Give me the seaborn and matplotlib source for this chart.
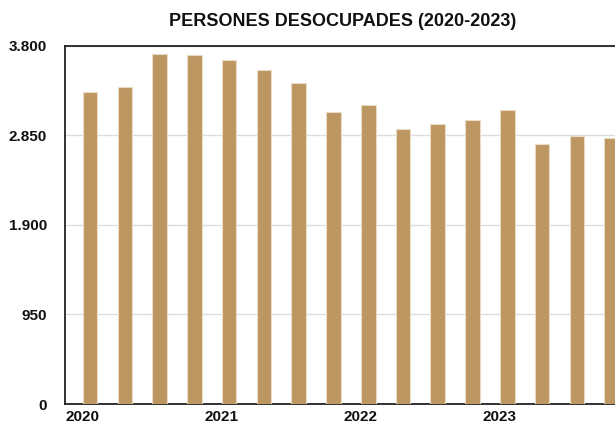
import numpy as np
import matplotlib
matplotlib.use('Agg')
import matplotlib.pyplot as plt
from matplotlib.ticker import FuncFormatter
import seaborn as sns
import pandas as pd

# Quarterly unemployed persons, 2020-2023
quarters = ['2020T1', '2020T2', '2020T3', '2020T4',
            '2021T1', '2021T2', '2021T3', '2021T4',
            '2022T1', '2022T2', '2022T3', '2022T4',
            '2023T1', '2023T2', '2023T3', '2023T4']
desocupades = [3306, 3359, 3712, 3705, 3645, 3539, 3408, 3094,
               3168, 2917, 2966, 3016, 3122, 2754, 2846, 2821]
year_labels = ['2020', '2021', '2022', '2023']
y_ticks = [0, 950, 1900, 2850, 3800]

df = pd.DataFrame({'trimestre': quarters, 'persones': desocupades})

sns.set_theme(style='white')
plt.rcParams['font.family'] = ['Liberation Sans', 'DejaVu Sans']

fig = plt.figure(figsize=(6.15, 4.23), dpi=100)
# axes runs a bit past the right edge, the original is cropped there
ax = fig.add_axes([65 / 615, 1 - 404 / 423, 564 / 615, 358.3 / 423])

sns.barplot(data=df, x='trimestre', y='persones', color='#bd9762',
            saturation=1, width=0.42, edgecolor='#eadcc4', linewidth=0.8,
            ax=ax, zorder=3)

ax.set_ylim(0, 3800)
ax.set_xlim(-0.72, 15.5)
ax.set_yticks(y_ticks)
ax.yaxis.set_major_formatter(FuncFormatter(lambda v, p: f'{int(v):,}'.replace(',', '.')))
ax.grid(axis='y', color='#dddddd', linewidth=1, zorder=0)
ax.grid(axis='x', visible=False)

year_pos = [i * 4 - 0.23 for i in range(len(year_labels))]
ax.set_xticks(year_pos)
ax.set_xticklabels(year_labels)

ax.set_xlabel('')
ax.set_ylabel('')
ax.tick_params(axis='y', length=0, pad=13, labelsize=11)
ax.tick_params(axis='x', length=0, pad=4, labelsize=11)
for lab in ax.get_xticklabels() + ax.get_yticklabels():
    lab.set_fontweight('bold')
    lab.set_color('#111111')

for side in ['left', 'top', 'bottom']:
    ax.spines[side].set_visible(True)
    ax.spines[side].set_color('#222222')
    ax.spines[side].set_linewidth(1.3)
ax.spines['right'].set_visible(False)

fig.text(343 / 615, 1 - 21 / 423, 'PERSONES DESOCUPADES (2020-2023)',
         ha='center', va='center', fontsize=13, fontweight='bold', color='#111111')

fig.savefig('out.png', dpi=100)
